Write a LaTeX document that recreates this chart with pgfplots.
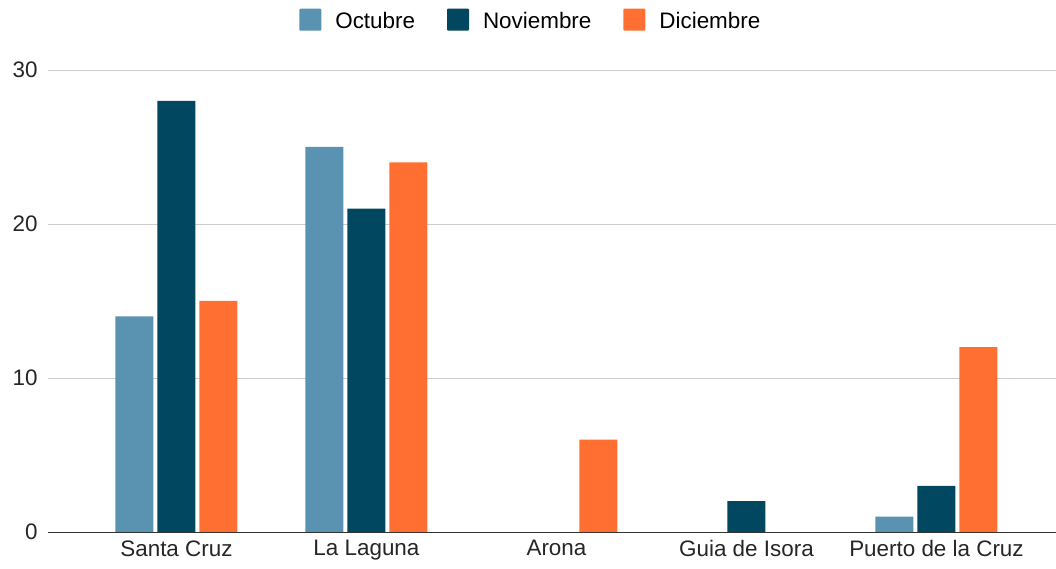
\documentclass[border=0pt]{standalone}
\usepackage{pgfplots}
\pgfplotsset{compat=1.18}
\usepackage{fontspec}
\setmainfont{Liberation Sans}
\definecolor{oct}{HTML}{5A93B1}
\definecolor{nov}{HTML}{01475F}
\definecolor{dic}{HTML}{FF6F31}
\definecolor{gridc}{HTML}{CCCCCC}
\definecolor{axc}{HTML}{333333}
\begin{document}
\begin{tikzpicture}
\useasboundingbox (-48bp,-37bp) rectangle (1008bp,532bp);
\begin{axis}[
  at={(0,0)}, anchor=south west,
  scale only axis, width=1008bp, height=462bp,
  ybar=4bp, bar width=38bp,
  xmin=-0.676, xmax=4.629, ymin=0, ymax=30,
  xtick={0,1,2,3,4},
  xticklabels={Santa Cruz,La Laguna,Arona,Guia de Isora,Puerto de la Cruz},
  ytick={0,10,20,30},
  ymajorgrids, grid style={gridc, line width=0.8pt},
  axis x line*=bottom, axis y line*=left,
  x axis line style={axc, line width=1pt, -},
  y axis line style={draw=none},
  major tick length=0pt,
  tick label style={font=\fontsize{22.5}{25}\selectfont, text=black!85},
  /pgf/number format/assume math mode=true,
  xticklabel style={yshift=-5bp},
  yticklabel style={xshift=-7bp},
  legend style={draw=none, at={(axis description cs:0.479,1.108)}, anchor=center,
    legend columns=-1, font=\fontsize{22.5}{25}\selectfont,
    /tikz/every even column/.append style={column sep=30bp},
    /tikz/every odd column/.append style={column sep=12bp}},
  legend image code/.code={\draw[#1, draw=none, rounded corners=1bp] (0bp,-10bp) rectangle (22bp,12bp);},
]
\addplot[fill=oct, draw=none] coordinates {(0,14) (1,25) (2,0) (3,0) (4,1)};
\addplot[fill=nov, draw=none] coordinates {(0,28) (1,21) (2,0) (3,2) (4,3)};
\addplot[fill=dic, draw=none] coordinates {(0,15) (1,24) (2,6) (3,0) (4,12)};
\legend{Octubre,Noviembre,Diciembre}
\end{axis}
\end{tikzpicture}
\end{document}
